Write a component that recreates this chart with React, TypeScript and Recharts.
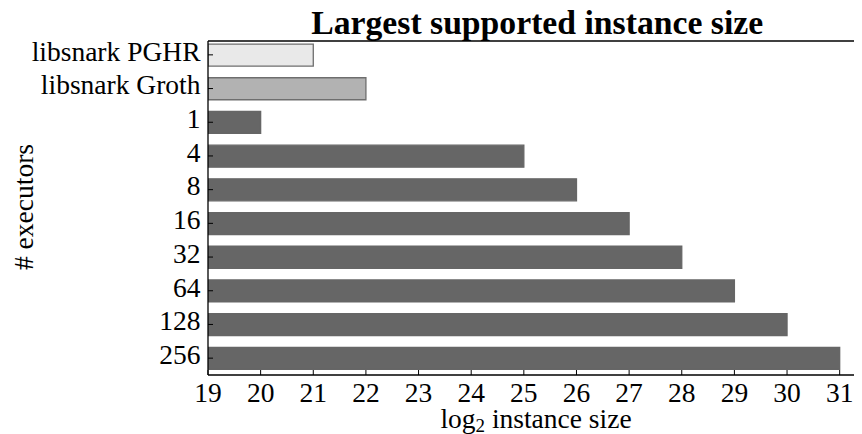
import React from 'react';
import { BarChart, Bar, XAxis, YAxis, Cell } from 'recharts';

// ---- data ----
const categories = ['libsnark PGHR', 'libsnark Groth', '1', '4', '8', '16', '32', '64', '128', '256'];
const log2Sizes = [21, 22, 20, 25, 26, 27, 28, 29, 30, 31];
const systems = ['pghr', 'groth', 'dizk', 'dizk', 'dizk', 'dizk', 'dizk', 'dizk', 'dizk', 'dizk'];
const xTicks = [19, 20, 21, 22, 23, 24, 25, 26, 27, 28, 29, 30, 31];
const xDomain = [19, 31.5];

const titleText = 'Largest supported instance size';
const xLabelMain = 'log';
const xLabelSub = '2';
const xLabelRest = ' instance size';
const yLabelText = '# executors';

// ---- styles ----
const fillBySystem: Record<string, string> = {
  pghr: '#e9e9e9',
  groth: '#b2b2b2',
  dizk: '#666666',
};
const strokeBySystem: Record<string, string> = {
  pghr: '#6e6e6e',
  groth: '#6e6e6e',
  dizk: '#666666',
};

const FONT = '"Liberation Serif", "Times New Roman", serif';
const TICK_FS = 27.5;
const TICK_LEN = 5;

const data = categories.map((name, i) => ({ name, value: log2Sizes[i], system: systems[i] }));

function BottomTick(props: any) {
  const { x, y, payload } = props;
  return (
    <g>
      <line x1={x} x2={x} y1={y} y2={y - TICK_LEN} stroke="#000" strokeWidth={1} />
      <text x={x} y={y + 26.5} textAnchor="middle" fontFamily={FONT} fontSize={TICK_FS} fill="#000">
        {payload.value}
      </text>
    </g>
  );
}

function LeftTick(props: any) {
  const { x, y, payload } = props;
  return (
    <g>
      <line x1={x} x2={x + TICK_LEN} y1={y} y2={y} stroke="#000" strokeWidth={1} />
      <text x={x - 7.5} y={y + 5.8} textAnchor="end" fontFamily={FONT} fontSize={TICK_FS} fill="#000">
        {payload.value}
      </text>
    </g>
  );
}

const bandPadding = { top: -3, bottom: 0 };

export default function App() {
  return (
    <div style={{ position: 'relative', width: 854, height: 426, fontFamily: FONT }}>
      <div style={{ position: 'absolute', left: 0, top: 0, width: 854, height: 426, overflow: 'hidden' }}>
        <BarChart
          width={858}
          height={426}
          data={data}
          layout="vertical"
          margin={{ top: 33, right: 0, bottom: 29, left: 0 }}
          barCategoryGap="18%"
        >
          <XAxis
            type="number"
            domain={xDomain}
            allowDataOverflow
            ticks={xTicks}
            interval={0}
            height={30}
            tickSize={0}
            tickMargin={0}
            axisLine={{ stroke: '#000', strokeWidth: 1.3 }}
            tickLine={false}
            tick={<BottomTick />}
          />
          <XAxis
            xAxisId="top"
            orientation="top"
            type="number"
            domain={xDomain}
            allowDataOverflow
            ticks={xTicks}
            interval={0}
            height={1}
            mirror
            tickSize={TICK_LEN}
            tick={false}
            axisLine={{ stroke: '#000', strokeWidth: 1.3 }}
            tickLine={{ stroke: '#000', strokeWidth: 1 }}
          />
          <YAxis
            type="category"
            dataKey="name"
            width={200}
            interval={0}
            padding={bandPadding}
            tickSize={0}
            tickMargin={0}
            axisLine={{ stroke: '#000', strokeWidth: 1.3 }}
            tickLine={false}
            tick={<LeftTick />}
          />
          <YAxis
            yAxisId="right"
            orientation="right"
            type="category"
            dataKey="name"
            width={1}
            interval={0}
            padding={bandPadding}
            mirror
            tickSize={TICK_LEN}
            tick={false}
            axisLine={{ stroke: '#000', strokeWidth: 1.3 }}
            tickLine={{ stroke: '#000', strokeWidth: 1 }}
          />
          <Bar dataKey="value" isAnimationActive={false} strokeWidth={1.3}>
            {data.map((d, i) => (
              <Cell key={i} fill={fillBySystem[d.system]} stroke={strokeBySystem[d.system]} />
            ))}
          </Bar>
        </BarChart>
      </div>

      <svg
        width={854}
        height={426}
        style={{ position: 'absolute', left: 0, top: 0, pointerEvents: 'none', overflow: 'visible' }}
      >
        <text
          x={529.2}
          y={26.3}
          textAnchor="middle"
          fontFamily={FONT}
          fontSize={33.7}
          fontWeight="bold"
          fill="#000"
        >
          {titleText}
        </text>
        <text x={528} y={419.5} textAnchor="middle" fontFamily={FONT} fontSize={TICK_FS} fill="#000">
          {xLabelMain}
          <tspan dy={4} fontSize={19}>
            {xLabelSub}
          </tspan>
          <tspan dy={-4}>{xLabelRest}</tspan>
        </text>
        <text
          transform="translate(25,199) rotate(-90)"
          x={0}
          y={0}
          textAnchor="middle"
          fontFamily={FONT}
          fontSize={TICK_FS}
          fill="#000"
        >
          {yLabelText}
        </text>
      </svg>
    </div>
  );
}
